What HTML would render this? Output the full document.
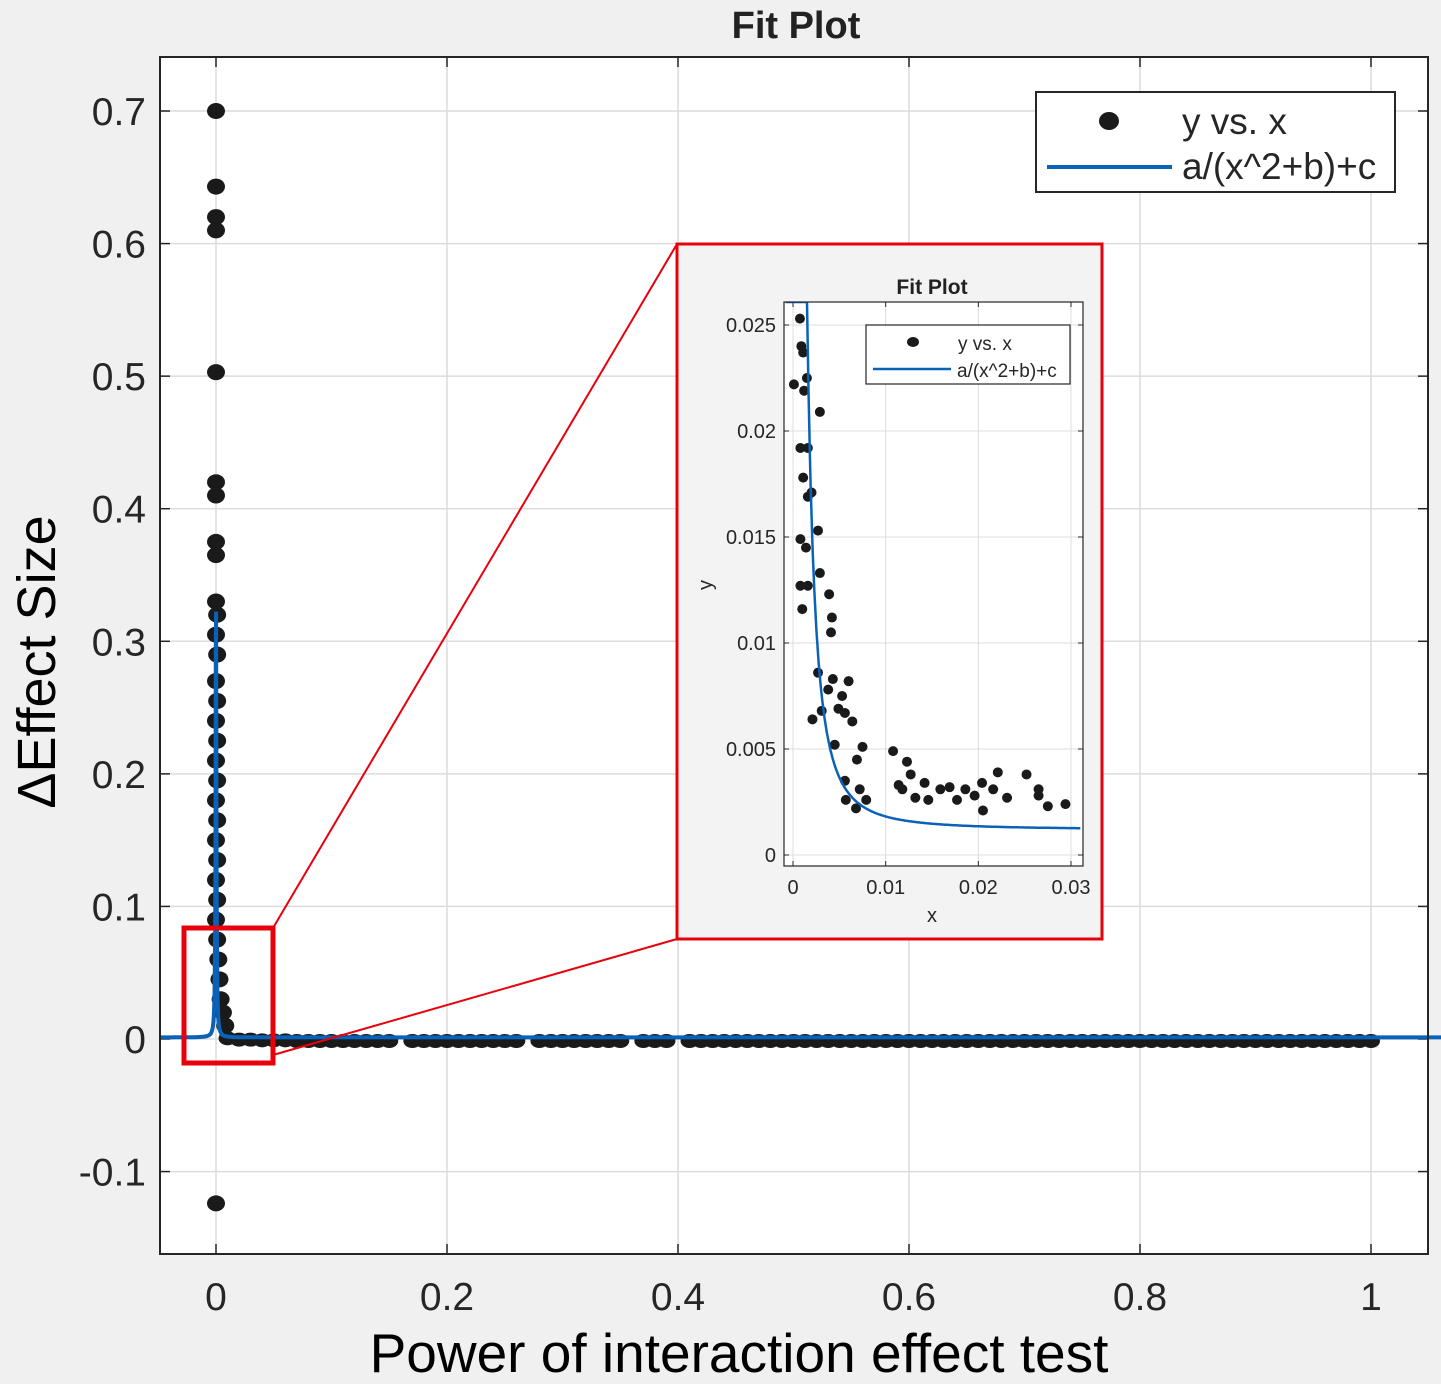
<!DOCTYPE html>
<html><head><meta charset="utf-8"><style>
body{margin:0;background:#f0f0f0;}
svg{display:block;font-family:"Liberation Sans",sans-serif;}
</style></head><body>
<svg id="c" width="1441" height="1384" xmlns="http://www.w3.org/2000/svg"></svg>
<script>
// Main chart data
const mainXTicks=[0,0.2,0.4,0.6,0.8,1];
const mainXTickLabels=["0","0.2","0.4","0.6","0.8","1"];
const mainYTicks=[-0.1,0,0.1,0.2,0.3,0.4,0.5,0.6,0.7];
const mainYTickLabels=["-0.1","0","0.1","0.2","0.3","0.4","0.5","0.6","0.7"];
const stackY=[0.70,0.643,0.62,0.61,0.503,0.42,0.41,0.375,0.365,0.33,0.32,0.305,0.29,0.27,0.255,0.24,0.225,0.21,0.195,0.18,0.165,0.15,0.135,0.12,0.105,0.09,0.075,0.06,0.045,0.03,0.02,0.01,-0.124];
const stackX=[0,0,0,0,0,0,0,0,0,0,0.001,0,0.001,0,0.001,0,0.001,0,0.001,0,0.001,0,0.001,0,0.001,0,0.001,0.002,0.003,0.004,0.006,0.008,0];
const rowX=[0.01,0.02,0.03,0.04,0.05,0.06,0.07,0.08,0.09,0.1,0.11,0.12,0.13,0.14,0.15,0.17,0.18,0.19,0.2,0.21,0.22,0.23,0.24,0.25,0.26,0.28,0.29,0.3,0.31,0.32,0.33,0.34,0.35,0.37,0.38,0.39,0.41,0.42,0.43,0.44,0.45,0.46,0.47,0.48,0.49,0.5,0.51,0.52,0.53,0.54,0.55,0.56,0.57,0.58,0.59,0.6,0.61,0.62,0.63,0.64,0.65,0.66,0.67,0.68,0.69,0.7,0.71,0.72,0.73,0.74,0.75,0.76,0.77,0.78,0.79,0.8,0.81,0.82,0.83,0.84,0.85,0.86,0.87,0.88,0.89,0.9,0.91,0.92,0.93,0.94,0.95,0.96,0.97,0.98,0.99,1.0];
const rowY=[0.002,0.001,0.001,0.0005,0.0005,0.0005,0,0,0,0,0,0,0,0,0,0,0,0,0,0,0,0,0,0,0,0,0,0,0,0,0,0,0,0,0,0,0,0,0,0,0,0,0,0,0,0,0,0,0,0,0,0,0,0,0,0,0,0,0,0,0,0,0,0,0,0,0,0,0,0,0,0,0,0,0,0,0,0,0,0,0,0,0,0,0,0,0,0,0,0,0,0,0,0,0,0];
const fitA=6.2e-8, fitB=1.9e-7, fitC=0.0012;
// Inset data
const insXTicks=[0,0.01,0.02,0.03];
const insXTickLabels=["0","0.01","0.02","0.03"];
const insYTicks=[0,0.005,0.01,0.015,0.02,0.025];
const insYTickLabels=["0","0.005","0.01","0.015","0.02","0.025"];
const insX=[0.00075,0.0009,0.0011,0.0001,0.0015,0.0012,0.0029,0.0008,0.0016,0.0011,0.0016,0.002,0.0027,0.0008,0.0014,0.0029,0.0008,0.0016,0.0039,0.001,0.0042,0.0041,0.0027,0.0043,0.006,0.0038,0.0053,0.0049,0.0056,0.0031,0.0021,0.0064,0.0045,0.0075,0.0069,0.0056,0.0108,0.0123,0.0127,0.0142,0.0159,0.0118,0.0072,0.0079,0.0114,0.0169,0.0177,0.0196,0.0186,0.0221,0.0204,0.0205,0.0216,0.0252,0.0265,0.0265,0.0294,0.0275,0.0231,0.0057,0.0068,0.0132,0.0146];
const insY=[0.0253,0.024,0.0237,0.0222,0.0225,0.0219,0.0209,0.0192,0.0192,0.0178,0.0169,0.0171,0.0153,0.0149,0.0145,0.0133,0.0127,0.0127,0.0123,0.0116,0.0112,0.0105,0.0086,0.0083,0.0082,0.0078,0.0075,0.0069,0.0067,0.0068,0.0064,0.0063,0.0052,0.0051,0.0045,0.0035,0.0049,0.0044,0.0038,0.0034,0.0031,0.0031,0.0031,0.0026,0.0033,0.0032,0.0026,0.0028,0.0031,0.0039,0.0034,0.0021,0.0031,0.0038,0.0031,0.0028,0.0024,0.0023,0.0027,0.0026,0.0022,0.0027,0.0026];

const NS="http://www.w3.org/2000/svg";
const svg=document.getElementById('c');
function mk(tag,attrs,parent,text){const e=document.createElementNS(NS,tag);for(const k in attrs)e.setAttribute(k,attrs[k]);if(text!==undefined)e.textContent=text;(parent||svg).appendChild(e);return e;}
function fit(x){return fitA/(x*x+fitB)+fitC;}

// main axes
const L=160,R=1428,T=57,B=1254;
const mx=v=>216+v*1155, my=v=>1039-v*1325.7;
const plot=mk('rect',{x:L,y:T,width:R-L,height:B-T,fill:'#fff'});


const grid=mk('g',{stroke:'#dcdcdc','stroke-width':1.5});


mainXTicks.forEach(v=>mk('line',{x1:mx(v),x2:mx(v),y1:T,y2:B},grid));
mainYTicks.forEach(v=>mk('line',{x1:L,x2:R,y1:my(v),y2:my(v)},grid));
const xt=mk('g',{fill:'#262626','font-size':39,'text-anchor':'middle'});


mainXTicks.forEach((v,i)=>mk('text',{x:mx(v),y:1310},xt,mainXTickLabels[i]));
const yt=mk('g',{fill:'#262626','font-size':39,'text-anchor':'end'});


mainYTicks.forEach((v,i)=>mk('text',{x:146,y:my(v)+14},yt,mainYTickLabels[i]));
const tk=mk('g',{stroke:'#262626','stroke-width':1.5});
mainXTicks.forEach(v=>{mk('line',{x1:mx(v),x2:mx(v),y1:B,y2:B-10},tk);mk('line',{x1:mx(v),x2:mx(v),y1:T,y2:T+10},tk);});
mainYTicks.forEach(v=>{mk('line',{x1:L,x2:L+10,y1:my(v),y2:my(v)},tk);mk('line',{x1:R,x2:R-10,y1:my(v),y2:my(v)},tk);});

const pts=mk('g',{fill:'#1a1a1a'});


stackY.forEach((v,i)=>{const p=mk('ellipse',{cx:mx(stackX[i]),cy:my(v),rx:9,ry:8},pts);});
rowX.forEach((v,i)=>{const p=mk('ellipse',{cx:mx(v),cy:my(rowY[i])+2,rx:9,ry:7},pts);});
let d='';
const xs=[];
for(let k=0;k<=300;k++)xs.push(-0.0485+k*(0.0585/300));
for(let k=1;k<=200;k++)xs.push(0.01+k*(1.06/200));
xs.forEach((x,i)=>{d+=(i?'L':'M')+mx(x).toFixed(1)+','+Math.max(my(fit(x)),T).toFixed(1);});
const fl=mk('path',{d:d,fill:'none',stroke:'#0a62b8','stroke-width':4});


const frame=mk('rect',{x:L,y:T,width:R-L,height:B-T,fill:'none',stroke:'#262626','stroke-width':2});



const ttl=mk('text',{x:796,y:38,'font-size':38,'font-weight':'bold','text-anchor':'middle',fill:'#222'},svg,'Fit Plot');


const xl=mk('text',{x:739,y:1372,'font-size':55,'text-anchor':'middle',fill:'#000'},svg,'Power of interaction effect test');


const yl=mk('text',{x:0,y:0,'font-size':54,'text-anchor':'middle',fill:'#000',transform:'translate(55,662) rotate(-90)'},svg,'ΔEffect Size');



// main legend
const lg=mk('g',{});


mk('rect',{x:1036,y:92,width:359,height:100,fill:'#fff',stroke:'#262626','stroke-width':2},lg);
mk('ellipse',{cx:1109,cy:121,rx:10,ry:9,fill:'#1a1a1a'},lg);
mk('text',{x:1182,y:134,'font-size':37,fill:'#262626'},lg,'y vs. x');
mk('line',{x1:1047,x2:1172,y1:167,y2:167,stroke:'#0a62b8','stroke-width':4},lg);
mk('text',{x:1182,y:179,'font-size':37,fill:'#262626'},lg,'a/(x^2+b)+c');

// zoom box & connectors
const zb=mk('rect',{x:184,y:928,width:89,height:135,fill:'none',stroke:'#e8000b','stroke-width':5});


mk('line',{x1:273,y1:928,x2:677,y2:244,stroke:'#e8000b','stroke-width':2});
mk('line',{x1:273,y1:1055,x2:677,y2:939,stroke:'#e8000b','stroke-width':2});

// inset
const ib=mk('rect',{x:677,y:244,width:425,height:695,fill:'#f3f3f3',stroke:'#e8000b','stroke-width':3});


const iL=784,iR=1083,iT=302,iB=866;
const ix=v=>793+v*9267, iy=v=>855-v*21200;
mk('rect',{x:iL,y:iT,width:iR-iL,height:iB-iT,fill:'#fff'});
const ig=mk('g',{stroke:'#dcdcdc','stroke-width':1});


insXTicks.forEach(v=>mk('line',{x1:ix(v),x2:ix(v),y1:iT,y2:iB},ig));
insYTicks.forEach(v=>mk('line',{x1:iL,x2:iR,y1:iy(v),y2:iy(v)},ig));
const itk=mk('g',{stroke:'#262626','stroke-width':1});
insXTicks.forEach(v=>{mk('line',{x1:ix(v),x2:ix(v),y1:iB,y2:iB-5},itk);mk('line',{x1:ix(v),x2:ix(v),y1:iT,y2:iT+5},itk);});
insYTicks.forEach(v=>{mk('line',{x1:iL,x2:iL+5,y1:iy(v),y2:iy(v)},itk);mk('line',{x1:iR,x2:iR-5,y1:iy(v),y2:iy(v)},itk);});
const ixt=mk('g',{fill:'#262626','font-size':20,'text-anchor':'middle'});


insXTicks.forEach((v,i)=>mk('text',{x:ix(v),y:894},ixt,insXTickLabels[i]));
const iyt=mk('g',{fill:'#262626','font-size':20,'text-anchor':'end'});


insYTicks.forEach((v,i)=>mk('text',{x:776,y:iy(v)+7},iyt,insYTickLabels[i]));
const ip=mk('g',{fill:'#1a1a1a'});


insX.forEach((v,i)=>{const p=mk('circle',{cx:ix(v),cy:iy(insY[i]),r:5},ip);});
let d2='';const ixs=[];
for(let k=0;k<=400;k++)ixs.push(-0.0008+k*(0.0318/400));
ixs.forEach((x,i)=>{d2+=(i?'L':'M')+ix(x).toFixed(1)+','+Math.max(iy(fit(x)),iT).toFixed(1);});
const cp=mk('clipPath',{id:'ic'});mk('rect',{x:iL,y:iT,width:iR-iL,height:iB-iT},cp);
const ifl=mk('path',{d:d2,fill:'none',stroke:'#0a62b8','stroke-width':2.5,'clip-path':'url(#ic)'});


mk('rect',{x:iL,y:iT,width:iR-iL,height:iB-iT,fill:'none',stroke:'#262626','stroke-width':1.2});
const it=mk('text',{x:932,y:294,'font-size':21,'font-weight':'bold','text-anchor':'middle',fill:'#222'},svg,'Fit Plot');


const ixl=mk('text',{x:932,y:922,'font-size':20,'text-anchor':'middle',fill:'#262626'},svg,'x');


const iyl=mk('text',{x:0,y:0,'font-size':20,'text-anchor':'middle',fill:'#262626',transform:'translate(712,585) rotate(-90)'},svg,'y');


const ilg=mk('g',{});


mk('rect',{x:866,y:325,width:204,height:59,fill:'#fff',stroke:'#262626','stroke-width':1.2},ilg);
mk('ellipse',{cx:913,cy:342,rx:6,ry:5,fill:'#1a1a1a'},ilg);
mk('text',{x:958,y:350,'font-size':19,fill:'#262626'},ilg,'y vs. x');
mk('line',{x1:873,x2:951,y1:369,y2:369,stroke:'#0a62b8','stroke-width':2.5},ilg);
mk('text',{x:957,y:377,'font-size':19,fill:'#262626'},ilg,'a/(x^2+b)+c');
</script>
</body></html>
